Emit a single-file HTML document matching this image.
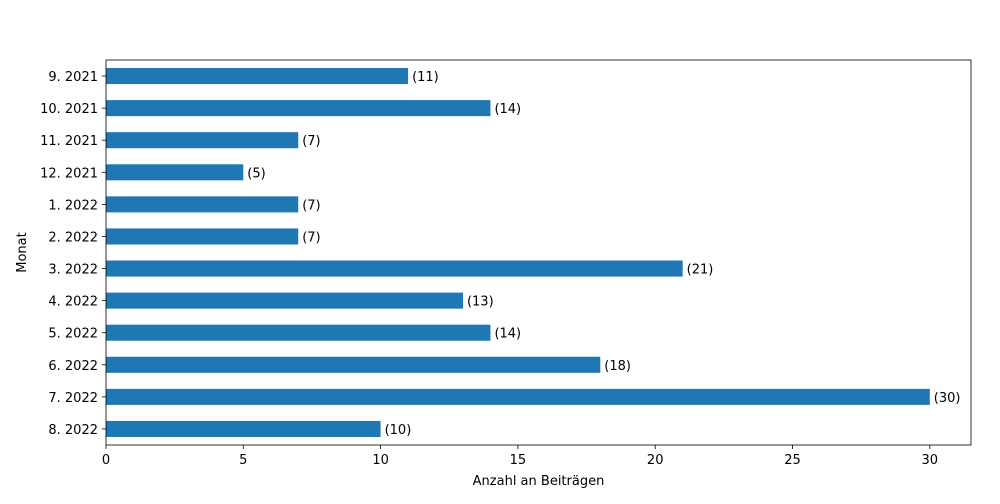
<!DOCTYPE html>
<html><head><meta charset="utf-8"><style>
body{margin:0;background:#fff;font-family:"DejaVu Sans","Liberation Sans",sans-serif;}
</style></head><body>
<svg width="1000" height="500" xmlns="http://www.w3.org/2000/svg" font-family="DejaVu Sans, Liberation Sans, sans-serif" font-size="13">
<g id="plot"></g>
</svg>
<script>
const categories=["9. 2021","10. 2021","11. 2021","12. 2021","1. 2022","2. 2022","3. 2022","4. 2022","5. 2022","6. 2022","7. 2022","8. 2022"];
const values=[11,14,7,5,7,7,21,13,14,18,30,10];
const xTicks=[0,5,10,15,20,25,30];
const L=106,R=971,T=60,B=445,xMax=31.5;
const NS="http://www.w3.org/2000/svg";
const g=document.getElementById('plot');
const x=v=>L+v/xMax*(R-L);
const step=(B-T)/(categories.length-0.5+0.5+0.0);
const n=categories.length;
const band=(B-T)/(n-1+1.0);
const y=i=>T+(B-T)*(i+0.5)/n;
function el(t,a,p){const e=document.createElementNS(NS,t);for(const k in a)e.setAttribute(k,a[k]);(p||g).appendChild(e);return e;}
categories.forEach((c,i)=>{
 const r=el('rect',{x:L,y:y(i)-band*0.25,width:x(values[i])-L,height:band*0.5,fill:'#1f77b4'});
 
 
 const t=el('text',{x:x(values[i])+4,y:y(i)+5,fill:'#000'});t.textContent='('+values[i]+')';
 
 
 el('line',{x1:L-4,x2:L,y1:y(i),y2:y(i),stroke:'#000','stroke-width':0.8});
 const yl=el('text',{x:L-8,y:y(i)+5,'text-anchor':'end'});yl.textContent=c;
 
 
});
xTicks.forEach(v=>{
 el('line',{x1:x(v),x2:x(v),y1:B,y2:B+4,stroke:'#000','stroke-width':0.8});
 const t=el('text',{x:x(v),y:B+19,'text-anchor':'middle'});t.textContent=v;
 
 
});
const f=el('rect',{x:L,y:T,width:R-L,height:B-T,fill:'none',stroke:'#000','stroke-width':0.8});


const xt=el('text',{x:(L+R)/2,y:485,'text-anchor':'middle'});xt.textContent='Anzahl an Beiträgen';


const yt=el('text',{x:26,y:(T+B)/2,'text-anchor':'middle',transform:'rotate(-90 26 '+((T+B)/2)+')'});yt.textContent='Monat';


</script>
</body></html>
